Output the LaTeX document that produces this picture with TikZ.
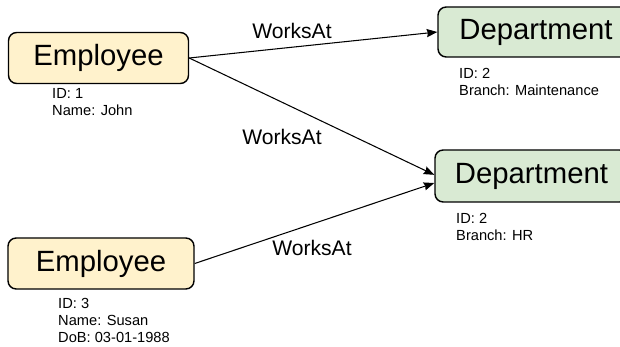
\documentclass[tikz,border=0pt]{standalone}
\usepackage{fontspec}
\setmainfont{Liberation Sans}
\usetikzlibrary{arrows.meta}
\definecolor{empfill}{HTML}{FFF2CC}
\definecolor{deptfill}{HTML}{D9EAD3}

\begin{document}
\begin{tikzpicture}[x=0.03cm, y=-0.03cm,
    entity/.style={draw, line width=1.2pt, rounded corners=7pt, inner sep=0pt,
      font=\fontsize{25}{30}\selectfont},
    employee/.style={entity, fill=empfill, minimum height=1.53cm},
    dept/.style={entity, fill=deptfill},
    attrs/.style={anchor=north west, align=left, inner sep=0pt,
      font=\fontsize{12.5}{14.5}\selectfont},
    rel/.style={inner sep=0pt, font=\fontsize{18}{22}\selectfont},
    link/.style={->, >={Stealth[length=9pt, width=7pt, inset=1pt]}, line width=0.9pt}]
    \useasboundingbox (0,0) rectangle (620,347);
    \clip (0,0) rectangle (620,347);

    % entities
    \node[employee, minimum width=5.4cm] (emp1) at (98.5, 58) {Employee};
    \node[employee, minimum width=5.58cm] (emp2) at (101, 263.5) {Employee};
    \node[dept, minimum width=5.88cm, minimum height=1.5cm] (dep1) at (536, 32) {Department};
    \node[dept, minimum width=5.79cm, minimum height=1.56cm] (dep2) at (531.5, 176) {Department};

    % properties
    \node[attrs] (emp1attr) at (52, 88) {ID: 1 \\ Name: John};
    \node[attrs] (emp2attr) at (58, 298) {ID: 3 \\ Name: Susan \\ DoB: 03-01-1988};
    \node[attrs] (dep1attr) at (459, 68) {ID: 2 \\ Branch: Maintenance};
    \node[attrs] (dep2attr) at (456, 213) {ID: 2 \\ Branch: HR};

    % relationships
    \draw[link] (emp1.east) -- (dep1.west);
    \draw[link] (emp1.east) -- ([yshift=1pt]dep2.west);
    \draw[link] (emp2.east) -- ([yshift=-6pt]dep2.west);
    \node[rel] (rel1) at (292, 31) {WorksAt};
    \node[rel] (rel2) at (282, 137) {WorksAt};
    \node[rel] (rel3) at (312, 248) {WorksAt};
\end{tikzpicture}
\end{document}
